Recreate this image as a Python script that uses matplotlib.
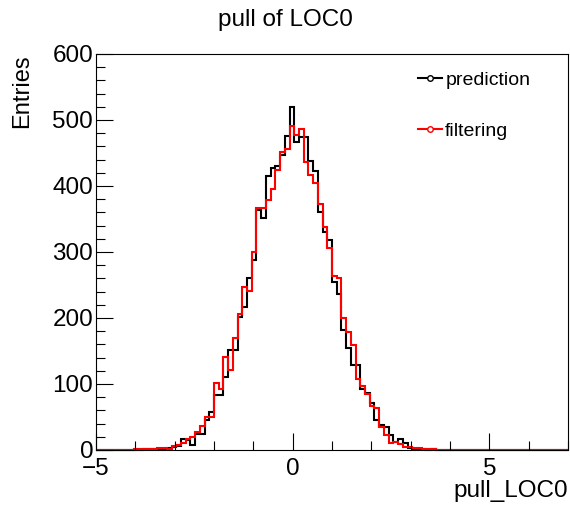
import numpy as np
import matplotlib
matplotlib.use("Agg")
import matplotlib.pyplot as plt
from matplotlib.lines import Line2D

plt.rcParams['font.family'] = ['Liberation Sans', 'DejaVu Sans']

#### histogram binning: 100 bins from -5 to 7 ####
n_bins = 100
x_min, x_max = -5, 7
first_bin = 8  # first bin of the lists below

#### bin contents (bins 8 .. 72) ####
prediction = [0, 0, 1, 1, 1, 2, 2, 3, 4, 6,
              16, 15, 8, 25, 24, 45, 57, 83, 83, 111,
              152, 152, 202, 217, 260, 288, 364, 352, 415, 428,
              430, 447, 476, 520, 467, 475, 475, 438, 422, 361,
              330, 318, 255, 237, 182, 154, 129, 129, 92, 86,
              71, 45, 38, 35, 22, 12, 16, 11, 3, 2,
              2, 1, 0, 1, 0]
filtering = [1, 1, 1, 1, 2, 3, 3, 2, 6, 7,
             10, 17, 19, 28, 37, 50, 50, 101, 93, 141,
             121, 170, 206, 247, 241, 300, 367, 366, 379, 396,
             424, 452, 456, 491, 477, 487, 437, 417, 404, 372,
             338, 306, 263, 260, 200, 179, 159, 108, 97, 85,
             66, 63, 35, 22, 10, 12, 9, 5, 5, 3,
             3, 1, 2, 1, 0]

edges = np.linspace(x_min, x_max, n_bins + 1)
h_pred = np.zeros(n_bins)
h_pred[first_bin:first_bin + len(prediction)] = prediction
h_filt = np.zeros(n_bins)
h_filt[first_bin:first_bin + len(filtering)] = filtering

fig = plt.figure(figsize=(5.7, 5.07), dpi=100)
ax = fig.add_axes([96 / 570, 1 - 450 / 507, 472 / 570, 396 / 507])

ax.stairs(h_pred, edges, color='black', linewidth=1.5, clip_on=False)
ax.stairs(h_filt, edges, color='red', linewidth=1.5, clip_on=False)

ax.set_xlim(x_min, x_max)
ax.set_ylim(0, 600)

ax.set_xticks([-5, 0, 5])
ax.set_xticks(np.arange(-5, 8, 1), minor=True)
ax.set_yticks(np.arange(0, 601, 100))
ax.set_yticks(np.arange(0, 601, 20), minor=True)
ax.tick_params(axis='both', which='both', direction='in', top=False, right=False,
               labelsize=17.5, width=0.8)
ax.tick_params(axis='both', which='major', length=12)
ax.tick_params(axis='both', which='minor', length=6.5)
ax.tick_params(axis='x', which='major', pad=6)
ax.tick_params(axis='y', which='major', pad=2)
for sp in ax.spines.values():
    sp.set_linewidth(0.8)

ax.set_xlabel('pull_LOC0', fontsize=17.5, loc='right', labelpad=0)
fig.text(22 / 570, 1 - 54 / 507, 'Entries', rotation=90, ha='center', va='top', fontsize=17)
fig.text(0.5, 1 - 20 / 507, 'pull of LOC0', ha='center', va='center', fontsize=17.5)

handles = [
    Line2D([], [], color='black', linewidth=1.5, marker='o', markersize=4,
           markerfacecolor='white', markeredgecolor='black', markeredgewidth=1),
    Line2D([], [], color='red', linewidth=1.5, marker='o', markersize=4,
           markerfacecolor='white', markeredgecolor='red', markeredgewidth=1),
]
ax.legend(handles, ['prediction', 'filtering'], loc='upper left',
          bbox_to_anchor=((418 - 96) / 472, (450 - 71) / 396), frameon=False,
          fontsize=14, handlelength=1.25, handletextpad=0.15, labelspacing=1.75,
          borderaxespad=0, borderpad=0, markerscale=1.0)

fig.savefig('out.png', dpi=100)
